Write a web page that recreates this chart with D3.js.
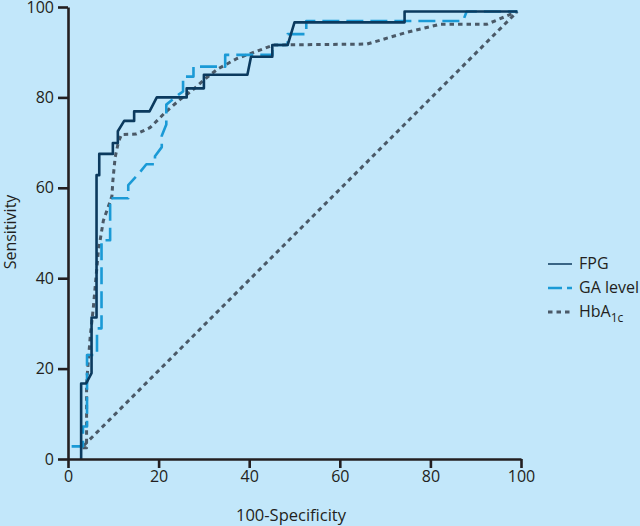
<!DOCTYPE html>
<html>
<head>
<meta charset="utf-8">
<script src="https://cdn.jsdelivr.net/npm/d3@7"></script>
<style>
  body { margin: 0; background: #c2e7fa; }
  svg { display: block; }
  text { font-family: "Open Sans", sans-serif; fill: #231f20; }
</style>
</head>
<body>
<div class="rocDiv"></div>
<script>
"use strict";

// ROC curves, x = 100-specificity, y = sensitivity
var fpgX = [2.9, 2.9, 4.0, 5.2, 5.2, 6.3, 6.3, 6.9, 6.9, 9.9, 9.9, 11.0, 11.0, 12.4, 14.6, 14.6, 18.0, 19.6, 26.2, 26.2, 30.0, 30.0, 39.6, 40.4, 45.1, 45.1, 48.5, 50.0, 74.3, 74.3, 99.2];
var fpgY = [0, 16.7, 16.7, 19.0, 31.3, 31.3, 62.8, 62.8, 67.5, 67.5, 69.9, 69.9, 72.5, 74.8, 74.8, 76.9, 76.9, 80.0, 80.0, 82.0, 82.0, 85.0, 85.0, 89.0, 89.0, 91.6, 91.6, 96.6, 96.6, 99.0, 99.0];

var gaX = [0.8, 3.3, 3.3, 4.2, 4.2, 6.4, 6.4, 7.4, 7.4, 9.3, 9.3, 13.3, 13.3, 15.6, 17.3, 19.2, 19.2, 20.7, 20.7, 21.7, 21.7, 24.4, 25.4, 25.4, 27.7, 27.7, 34.7, 34.7, 45.1, 45.1, 48.5, 48.5, 52.6, 52.6, 87.2, 88.0, 99.2];
var gaY = [2.8, 2.8, 7.2, 7.2, 23.0, 23.0, 28.9, 28.9, 48.4, 48.4, 57.7, 57.7, 60.6, 63.1, 65.2, 65.2, 67.0, 69.0, 71.5, 74.0, 78.4, 80.6, 81.3, 84.6, 84.6, 86.8, 86.8, 89.4, 89.4, 91.6, 91.6, 94.0, 94.0, 96.9, 96.9, 99.0, 99.0];

var hbX = [3.2, 4.1, 4.1, 4.9, 5.6, 6.7, 7.8, 9.1, 9.7, 9.9, 10.4, 11.1, 11.8, 15.1, 18.1, 21.7, 24.7, 27.6, 30.5, 33.1, 37.3, 45.4, 66.0, 74.8, 82.2, 92.5, 99.2];
var hbY = [2.5, 2.5, 16.7, 27.0, 33.6, 46.0, 52.7, 56.4, 58.2, 61.5, 66.7, 70.0, 71.8, 71.9, 73.3, 76.9, 79.5, 81.7, 84.3, 86.3, 88.6, 91.6, 91.8, 94.4, 96.2, 96.2, 99.0];

var diagX = [3.5, 99.2];
var diagY = [3.0, 99.0];

var xTicks = [0, 20, 40, 60, 80, 100];
var yTicks = [0, 20, 40, 60, 80, 100];

var seriesNames = ["FPG", "GA level", "HbA1c"];

var width = 640, height = 526;
var margin = {top: 7, right: 521, bottom: 459, left: 68};

var x = d3.scaleLinear().domain([0, 100]).range([margin.left, margin.right]);
var y = d3.scaleLinear().domain([0, 100]).range([margin.bottom, margin.top]);

var svg = d3.select(".rocDiv").append("svg")
    .attr("width", width)
    .attr("height", height);

svg.append("rect").attr("width", width).attr("height", height).attr("fill", "#c2e7fa");

function pts(xs, ys) {
  return xs.map(function(v, i) { return [v, ys[i]]; });
}

var line = d3.line()
    .x(function(d) { return x(d[0]); })
    .y(function(d) { return y(d[1]); });

// reference diagonal
svg.append("path")
    .attr("d", line(pts(diagX, diagY)))
    .attr("fill", "none")
    .attr("stroke", "#4a5967")
    .attr("stroke-width", 3)
    .attr("stroke-dasharray", "4.5,4");

var styles = [
  {color: "#0b3a5e", dash: null, w: 2.6},
  {color: "#1a9ad6", dash: "17,7", w: 2.6},
  {color: "#4a5967", dash: "4.5,4", w: 3}
];

var curves = [pts(hbX, hbY), pts(gaX, gaY), pts(fpgX, fpgY)];
var order = [2, 1, 0];
curves.forEach(function(c, k) {
  var s = styles[order[k]];
  svg.append("path")
      .attr("d", line(c))
      .attr("fill", "none")
      .attr("stroke", s.color)
      .attr("stroke-width", s.w)
      .attr("stroke-linejoin", "round")
      .attr("stroke-dasharray", s.dash);
});

// axes
var yAxis = svg.append("g")
    .attr("transform", "translate(" + margin.left + ",0)")
    .call(d3.axisLeft(y).tickValues(yTicks).tickSize(10).tickSizeOuter(0).tickPadding(4));

var xAxis = svg.append("g")
    .attr("transform", "translate(0," + margin.bottom + ")")
    .call(d3.axisBottom(x).tickValues(xTicks).tickSize(9).tickSizeOuter(0).tickPadding(3));

[xAxis, yAxis].forEach(function(a) {
  a.select(".domain").attr("stroke", "#231f20").attr("stroke-width", 2.6);
  a.selectAll(".tick line").attr("stroke", "#231f20").attr("stroke-width", 2.6);
  a.selectAll(".tick text")
      .attr("font-family", "'Open Sans', sans-serif")
      .attr("font-size", 16)
      .attr("fill", "#231f20");
});

// axis titles
svg.append("text")
    .attr("x", 291)
    .attr("y", 521)
    .attr("text-anchor", "middle")
    .attr("font-size", 16.5)
    .text("100-Specificity");

svg.append("text")
    .attr("transform", "translate(16,232) rotate(-90)")
    .attr("text-anchor", "middle")
    .attr("font-size", 16)
    .text("Sensitivity");

// legend
var legendY = [264, 288, 312];
var leg = svg.append("g");
seriesNames.forEach(function(name, i) {
  var s = styles[i];
  leg.append("line")
      .attr("x1", 548).attr("x2", 572)
      .attr("y1", legendY[i]).attr("y2", legendY[i])
      .attr("stroke", s.color)
      .attr("stroke-width", i === 0 ? 1.5 : s.w)
      .attr("stroke-dasharray", i === 1 ? "14,5" : s.dash);
  var t = leg.append("text")
      .attr("x", 579)
      .attr("y", legendY[i] + 5)
      .attr("font-size", 16);
  if (name === "HbA1c") {
    t.text("HbA");
    t.append("tspan").attr("dy", 5).attr("font-size", 12).text("1c");
  } else {
    t.text(name);
  }
});
</script>
</body>
</html>
